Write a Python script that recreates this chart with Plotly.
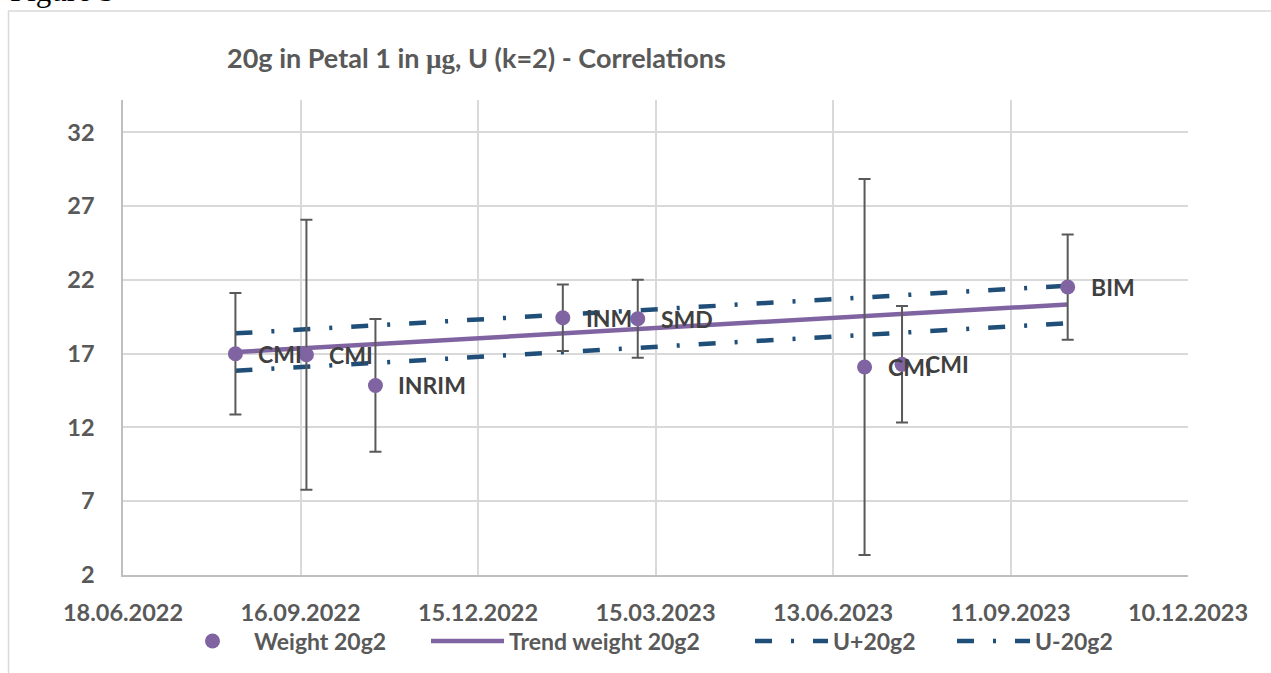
import plotly.graph_objects as go

# Weighing results for the 20 g weight in Petal 1 (deviation in µg), expanded uncertainty U (k=2)
dates = ["2022-08-14", "2022-09-19", "2022-10-24", "2023-01-27",
         "2023-03-06", "2023-06-29", "2023-07-18", "2023-10-10"]
labs = ["CMI", "CMI", "INRIM", "INM", "SMD", "CMI", "CMI", "BIM"]
weights = [17.0, 16.93, 14.85, 19.44, 19.37, 16.10, 16.28, 21.52]
u_k2 = [4.12, 9.15, 4.5, 2.25, 2.65, 12.75, 3.95, 3.57]

# Trend line and its uncertainty band, end points
trend_dates = ["2022-08-14", "2023-10-10"]
trend = [17.11, 20.34]
u_plus = [18.38, 21.61]
u_minus = [15.84, 19.07]

x_ticks = ["2022-06-18", "2022-09-16", "2022-12-15", "2023-03-15",
           "2023-06-13", "2023-09-11", "2023-12-10"]
x_ticktext = ["18.06.2022", "16.09.2022", "15.12.2022", "15.03.2023",
              "13.06.2023", "11.09.2023", "10.12.2023"]
y_ticks = [2, 7, 12, 17, 22, 27, 32]

PURPLE = "#8064A2"
NAVY = "#1F4E79"
GREY_TXT = "#595959"
DARK_TXT = "#404040"
GRID = "#D9D9D9"
FONT = "Lato"

# plot-area placement in pixels
W, H = 1271, 673
L, R, T, B = 123, 83, 100, 97
PW, PH = W - L - R, H - T - B


def px_x(px):
    return (px - L) / PW


def px_y(py):
    return (H - B - py) / PH


dashdot = "17px,19px,3px,19px"

fig = go.Figure()

fig.add_trace(go.Scatter(
    x=trend_dates, y=u_plus, mode="lines", name="U+20g2", showlegend=True,
    line=dict(color=NAVY, width=4.5, dash=dashdot), legend="legend3"))
fig.add_trace(go.Scatter(
    x=trend_dates, y=u_minus, mode="lines", name="U-20g2", showlegend=True,
    line=dict(color=NAVY, width=4.5, dash=dashdot), legend="legend4"))
fig.add_trace(go.Scatter(
    x=trend_dates, y=trend, mode="lines", name="Trend weight 20g2", showlegend=True,
    line=dict(color=PURPLE, width=4.5), legend="legend2"))
fig.add_trace(go.Scatter(
    x=dates, y=weights, mode="markers", name="Weight 20g2", showlegend=True,
    marker=dict(color=PURPLE, size=15),
    error_y=dict(type="data", array=u_k2, visible=True,
                 color=GREY_TXT, thickness=2, width=6),
    legend="legend"))

for d, v, t in zip(dates, weights, labs):
    fig.add_annotation(x=d, y=v, text=t, showarrow=False,
                       xanchor="left", yanchor="middle", xshift=21,
                       font=dict(family=FONT, size=23, color=DARK_TXT, weight=700))

# caption above the chart frame
fig.add_annotation(xref="paper", yref="paper", x=px_x(8), y=px_y(-10),
                   text="Figure 5", showarrow=False, xanchor="left", yanchor="middle",
                   font=dict(family="Liberation Serif", size=31, color="#000000"))

# chart frame
fig.add_shape(type="rect", xref="paper", yref="paper",
              x0=px_x(8.5), x1=px_x(1300), y0=px_y(700), y1=px_y(10.7),
              line=dict(color=GRID, width=1.5), fillcolor="rgba(0,0,0,0)", layer="below")

leg_common = dict(orientation="h", yanchor="middle", xanchor="left",
                  font=dict(family=FONT, size=23, color=GREY_TXT, weight=700),
                  bgcolor="rgba(0,0,0,0)", itemwidth=73, visible=True)
ly = px_y(641)

fig.update_layout(
    width=W, height=H, showlegend=True,
    margin=dict(l=L, r=R, t=T, b=B, pad=0),
    paper_bgcolor="white", plot_bgcolor="white",
    title=dict(
        text="20g in Petal 1 in <span style='font-family:Liberation Serif'>µg</span>, U (k=2) - Correlations",
        x=px_x(227), xref="paper", xanchor="left",
        y=1 - 59 / H, yref="container", yanchor="middle",
        font=dict(family=FONT, size=27, color=GREY_TXT, weight=700)),
    legend=dict(x=px_x(171), y=ly, **leg_common),
    legend2=dict(x=px_x(426), y=ly, **leg_common),
    legend3=dict(x=px_x(750), y=ly, **leg_common),
    legend4=dict(x=px_x(952), y=ly, **leg_common),
    xaxis=dict(type="date", range=["2022-06-18", "2023-12-10"],
               tickmode="array", tickvals=x_ticks, ticktext=x_ticktext,
               showgrid=True, gridcolor=GRID, gridwidth=1.5,
               showline=True, linecolor="#BFBFBF", linewidth=1.5,
               ticks="", ticklabelstandoff=16, zeroline=False,
               tickfont=dict(family=FONT, size=23.5, color=GREY_TXT, weight=700)),
    yaxis=dict(range=[2, 34.2], tickmode="array", tickvals=y_ticks,
               showgrid=True, gridcolor=GRID, gridwidth=1.5,
               showline=True, linecolor="#BFBFBF", linewidth=1.5,
               ticks="", ticklabelstandoff=22, zeroline=False,
               tickfont=dict(family=FONT, size=23.5, color=GREY_TXT, weight=700)),
)

fig.write_html("out.html")
